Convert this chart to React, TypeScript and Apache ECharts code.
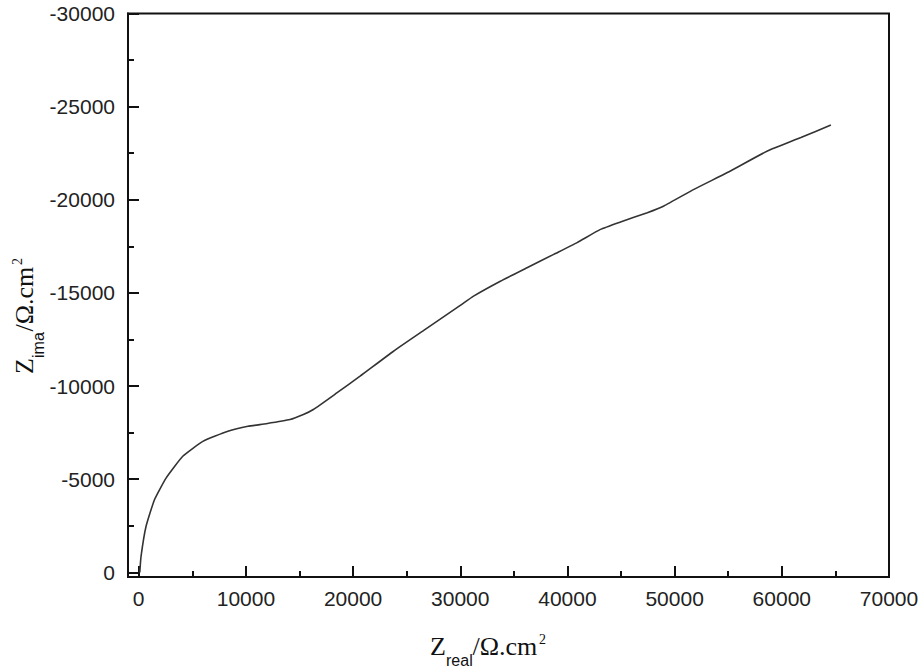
import React, { useEffect, useRef } from "react";
import * as echarts from "echarts";

// Nyquist data: Z_real (Ω.cm²) and Z_ima (Ω.cm², negative)
const zReal = [100, 215, 680, 1470, 2550, 4110, 5980, 8320, 10190, 11900, 14110, 15360, 16290, 18480, 20650, 23770, 26730, 30000, 31240, 33740, 36230, 38720, 40900, 43080, 44950, 47450, 49000, 51800, 54920, 58660, 61780, 64580];
const zIma = [0, -850, -2460, -3900, -5060, -6230, -7030, -7570, -7840, -7980, -8200, -8470, -8740, -9630, -10530, -11870, -13040, -14330, -14830, -15630, -16350, -17070, -17700, -18410, -18810, -19310, -19670, -20560, -21460, -22620, -23340, -24020];

const xMajorTicks = [0, 10000, 20000, 30000, 40000, 50000, 60000, 70000];
const xMinorTicks = [5000, 15000, 25000, 35000, 45000, 55000, 65000];
const yMajorTicks = [-30000, -25000, -20000, -15000, -10000, -5000, 0];
const yMinorTicks = [-27500, -22500, -17500, -12500, -7500, -2500];

const X_MIN = -1000;
const X_MAX = 70000;
const Y_MIN = -30000;
const Y_MAX = 250;

const LABEL_FONT = "Liberation Sans";
const AXIS_COLOR = "#111";

function titleGroup(x: number, y: number, rotation: number, sub: string) {
  const base = (t: string, dx: number, dy: number, font: string) => ({
    type: "text",
    x: dx,
    y: dy,
    style: {
      text: t,
      font,
      fill: "#111",
      align: "left",
      verticalAlign: "middle",
      textAlign: "left",
      textVerticalAlign: "middle",
    },
  });
  return {
    type: "group",
    x,
    y,
    rotation,
    children: [
      base("Z", 0, -8.8, '26px "Liberation Serif"'),
      base(sub, 16, 5.5, '16px "Liberation Sans"'),
      base("/Ω.cm", 42.5, -8.8, '26px "Liberation Serif"'),
      base("2", 109, -15.5, '14px "Liberation Serif"'),
    ],
  };
}

export default function App() {
  const ref = useRef<HTMLDivElement>(null);
  useEffect(() => {
    if (!ref.current) return;
    const chart = echarts.init(ref.current, undefined, { renderer: "svg" });
    const data = zReal.map((v, i) => [v, zIma[i]]);
    const labelStyle = {
      fontFamily: LABEL_FONT,
      fontSize: 21,
      color: "#222",
    };
    chart.setOption({
      animation: false,
      backgroundColor: "#fff",
      grid: {
        left: 128,
        top: 13.5,
        right: 35,
        bottom: 93,
        show: true,
        borderColor: AXIS_COLOR,
        borderWidth: 2,
        backgroundColor: "transparent",
      },
      xAxis: [
        {
          type: "value",
          min: X_MIN,
          max: X_MAX,
          position: "bottom",
          axisLine: { show: true, onZero: false, lineStyle: { color: AXIS_COLOR, width: 2 } },
          axisTick: {
            show: true,
            inside: true,
            length: 11,
            customValues: xMajorTicks,
            lineStyle: { color: AXIS_COLOR, width: 2 },
          },
          axisLabel: {
            show: true,
            margin: 11,
            customValues: xMajorTicks,
            formatter: (v: number) => String(v),
            ...labelStyle,
          },
          splitLine: { show: false },
        },
        {
          type: "value",
          min: X_MIN,
          max: X_MAX,
          position: "bottom",
          axisLine: { show: false, onZero: false },
          axisTick: {
            show: true,
            inside: true,
            length: 6,
            customValues: xMinorTicks,
            lineStyle: { color: AXIS_COLOR, width: 2 },
          },
          axisLabel: { show: false },
          splitLine: { show: false },
        },
      ],
      yAxis: [
        {
          type: "value",
          min: Y_MIN,
          max: Y_MAX,
          inverse: true,
          position: "left",
          axisLine: { show: true, onZero: false, lineStyle: { color: AXIS_COLOR, width: 2 } },
          axisTick: {
            show: true,
            inside: true,
            length: 11,
            customValues: yMajorTicks,
            lineStyle: { color: AXIS_COLOR, width: 2 },
          },
          axisLabel: {
            show: true,
            margin: 13,
            customValues: yMajorTicks,
            formatter: (v: number) => String(v),
            ...labelStyle,
          },
          splitLine: { show: false },
        },
        {
          type: "value",
          min: Y_MIN,
          max: Y_MAX,
          inverse: true,
          position: "left",
          axisLine: { show: false, onZero: false },
          axisTick: {
            show: true,
            inside: true,
            length: 6,
            customValues: yMinorTicks,
            lineStyle: { color: AXIS_COLOR, width: 2 },
          },
          axisLabel: { show: false },
          splitLine: { show: false },
        },
      ],
      series: [
        {
          type: "line",
          xAxisIndex: 0,
          yAxisIndex: 0,
          data,
          showSymbol: false,
          smooth: 0.15,
          lineStyle: { color: "#333", width: 1.6 },
        },
      ],
      graphic: [
        titleGroup(430, 655, 0, "real"),
        titleGroup(33, 374, Math.PI / 2, "ima"),
      ],
    });
    return () => chart.dispose();
  }, []);
  return (
    <div
      ref={ref}
      style={{ position: "fixed", left: 0, top: 0, width: 924, height: 670, background: "#fff" }}
    />
  );
}
